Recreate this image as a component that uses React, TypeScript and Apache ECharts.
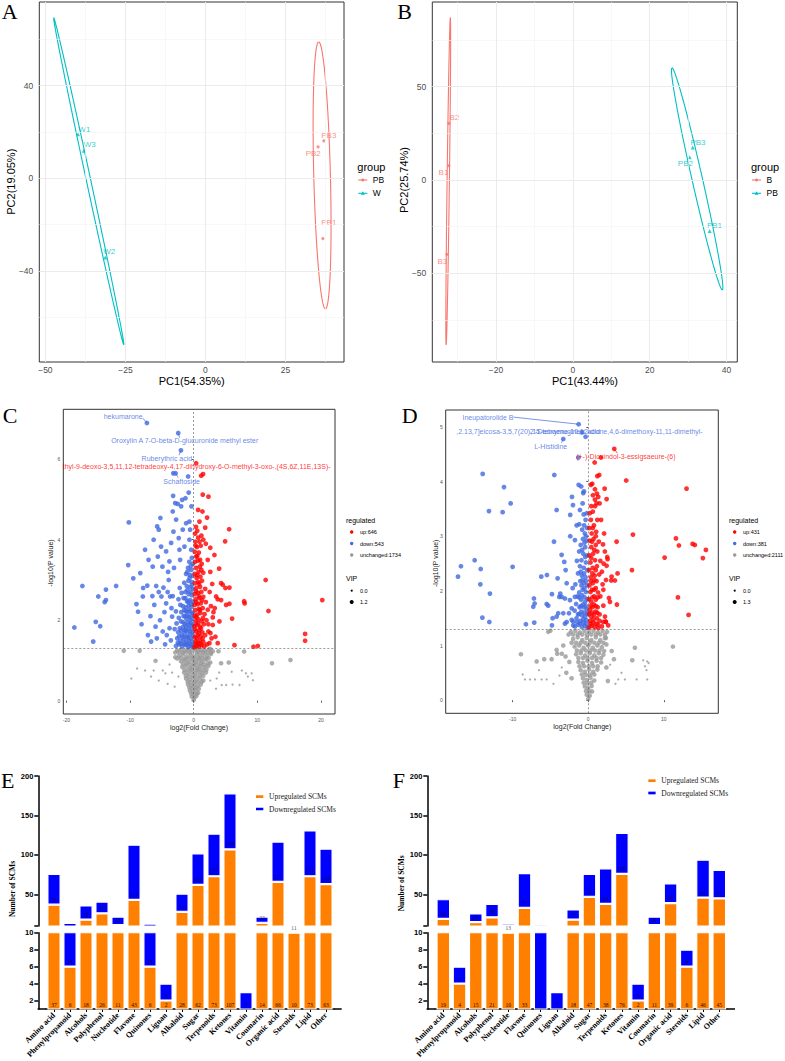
import React, { useEffect, useRef } from "react";
import * as echarts from "echarts";

const SANS = "'Liberation Sans', Arial, Helvetica, sans-serif";
const SERIF = "'Liberation Serif', 'Times New Roman', Times, serif";

const RED_G = "#F8766D";
const CYAN_G = "#00BFC4";
const UP_RED = "#FF0000";
const DOWN_BLUE = "#4169E1";
const NS_GRAY = "#999999";
const ORANGE = "#FF8000";
const BLUE = "#0000FF";

// ---------- PCA scores ----------
const A_PB_NAMES = ["PB1", "PB2", "PB3"];
const A_PB_SCORES = [[36.7, -26.0], [35.2, 13.6], [37.0, 16.2]];
const A_W_NAMES = ["W1", "W2", "W3"];
const A_W_SCORES = [[-39.8, 19.0], [-31.3, -34.2], [-38.0, 11.9]];
const B_B_NAMES = ["B1", "B2", "B3"];
const B_B_SCORES = [[-32.3, 7.7], [-32.3, 30.4], [-32.8, -39.8]];
const B_PB_NAMES = ["PB1", "PB2", "PB3"];
const B_PB_SCORES = [[35.6, -27.3], [30.4, 12.2], [31.2, 17.5]];

// confidence ellipses: centre, semi-diameter to the top, horizontal half-chord
const A_ELLIPSES = [
  { c: [36.45, 1.25], a: [-1.05, 57.65], b: [2.6, 0], color: RED_G },
  { c: [-36.45, -1.25], a: [-10.95, 70.65], b: [0.7, 0], color: CYAN_G },
];
const B_ELLIPSES = [
  { c: [-32.45, -0.65], a: [0.55, 87.75], b: [0.3, 0], color: RED_G },
  { c: [32.35, 0.65], a: [-6.55, 59.55], b: [1.39, 0], color: CYAN_G },
];

const A_X_TICKS = [-50, -25, 0, 25];
const A_Y_TICKS = [-40, 0, 40];
const B_X_TICKS = [-20, 0, 20, 40];
const B_Y_TICKS = [-50, 0, 50];

// ---------- volcano C (PB vs W) ----------
const C_COUNTS = { up: 646, down: 543, unchanged: 1734 };
const C_VIP = ["0.0", "1.2"];
const C_UP = [
  [0.38, 5.9], [1.16, 5.59], [1.47, 5.63], [1.42, 5.12], [2.31, 5.07], [0.69, 4.74], [1.37, 4.7], [2.1, 4.55], [0.9, 4.45],
  [5.56, 4.26], [4.93, 3.96], [3.25, 3.62], [3.99, 3.28], [4.3, 2.92], [4.56, 2.88], [4.98, 2.8], [5.61, 2.81], [11.3, 3.0],
  [7.92, 2.47], [8.0, 2.42], [11.74, 2.23], [6.03, 2.04], [20.2, 2.5], [17.5, 1.66], [17.5, 1.49], [10.07, 1.36], [9.39, 1.34],
  [6.4, 1.38], [4.04, 1.97], [2.99, 2.07], [3.41, 1.59], [3.77, 1.43], [2.47, 1.43], [5.61, 2.41], [5.09, 2.38], [4.3, 2.5],
  [3.77, 2.52], [3.52, 2.59], [3.3, 2.3], [2.99, 1.88], [2.62, 1.68],
  [2.6, 3.2], [2.9, 2.9], [2.2, 3.5], [1.9, 3.9], [2.5, 2.7], [3.1, 2.2], [2.8, 1.55], [2.3, 1.9], [2.7, 2.35], [1.8, 4.3], [1.5, 4.0], [2.6, 3.8],
  [0.12, 1.33], [0.45, 1.36], [0.8, 1.34], [1.2, 1.38], [1.65, 1.35], [2.1, 1.4], [0.3, 1.47], [0.95, 1.5], [1.5, 1.46],
  [0.18, 1.58], [0.6, 1.62], [1.1, 1.6], [1.8, 1.63], [0.35, 1.72], [0.85, 1.75], [1.35, 1.7], [2.3, 1.72],
  [0.1, 1.85], [0.5, 1.88], [1.0, 1.84], [1.6, 1.9], [0.3, 1.98], [0.75, 2.02], [1.25, 1.97], [2.0, 2.0], [0.15, 2.1],
  [0.55, 2.14], [1.05, 2.18], [1.7, 2.15], [0.25, 2.25], [0.8, 2.28], [1.4, 2.3], [2.2, 2.26], [0.12, 2.38], [0.6, 2.4], [1.1, 2.42], [1.9, 2.45],
  [0.3, 2.52], [0.9, 2.55], [1.5, 2.58], [0.15, 2.65], [0.65, 2.68], [1.2, 2.7], [0.4, 2.8], [1.0, 2.83], [1.8, 2.78], [0.2, 2.92], [0.7, 2.95], [1.3, 2.98],
  [0.45, 3.05], [1.05, 3.08], [0.15, 3.15], [0.75, 3.2], [1.5, 3.18], [0.35, 3.3], [0.95, 3.33], [0.2, 3.45], [0.65, 3.48], [1.25, 3.4], [0.4, 3.58],
  [0.15, 3.7], [0.8, 3.68], [0.5, 3.82], [1.1, 3.85], [0.25, 3.95], [0.7, 4.05], [0.2, 4.15], [1.2, 4.1], [0.55, 4.22], [0.35, 4.32],
  [0.3, 1.42], [0.7, 1.43], [1.05, 1.42], [1.4, 1.55], [0.45, 1.55], [0.8, 1.67], [0.2, 1.78], [1.15, 1.8], [0.65, 1.92], [1.45, 2.05],
  [0.4, 2.08], [0.95, 2.25], [0.4, 2.45], [1.3, 2.5], [0.8, 2.6], [0.35, 2.72], [0.85, 2.9], [0.55, 3.12], [1.2, 3.25], [0.55, 3.6],
  [1.0, 3.5], [0.3, 3.85], [0.9, 3.95],
];
const C_DOWN = [
  [-7.36, 6.9], [-2.44, 6.65], [-2.01, 6.22], [-3.22, 5.65], [-2.85, 5.65],
  [-18.76, 1.82], [-17.5, 2.85], [-15.8, 1.47], [-15.4, 1.96], [-14.7, 1.85], [-15.0, 2.59], [-14.0, 2.45], [-13.8, 2.5], [-13.8, 2.76],
  [-12.2, 2.85], [-10.3, 3.37], [-10.2, 4.43], [-9.5, 3.04], [-8.75, 2.21], [-8.4, 3.17], [-8.0, 2.59], [-7.95, 2.8], [-7.65, 3.75],
  [-7.3, 2.86], [-7.2, 1.63], [-7.1, 3.5], [-6.7, 1.47], [-6.45, 3.33], [-6.3, 4.0], [-6.2, 2.38], [-6.0, 1.84], [-5.9, 2.85],
  [-5.75, 4.33], [-5.65, 3.58], [-5.5, 4.25], [-5.24, 4.54], [-5.13, 3.83], [-5.08, 2.59], [-4.92, 3.33], [-4.87, 1.72], [-4.76, 2.81],
  [-4.34, 3.71], [-4.34, 2.42], [-4.24, 1.63], [-4.03, 3.2], [-3.93, 3.0], [-3.82, 3.46], [-3.71, 2.59], [-3.55, 3.92], [-3.4, 2.09],
  [-3.3, 4.7], [-3.24, 5.09], [-3.19, 4.2], [-2.92, 4.91], [-2.77, 4.5], [-2.52, 4.89], [-2.36, 4.04], [-2.25, 3.75], [-2.14, 3.5],
  [-1.98, 4.83], [-1.82, 4.99], [-1.73, 4.25], [-1.46, 3.83], [-1.3, 5.03], [-1.2, 4.41], [-0.88, 5.57], [-0.79, 5.17], [-0.68, 4.45],
  [-0.68, 4.0], [-0.57, 4.25], [-0.41, 3.75], [-0.36, 4.83],
  [-9.0, 2.4], [-8.2, 1.9], [-6.8, 2.1], [-5.3, 2.0], [-5.8, 1.55], [-4.6, 2.2], [-3.8, 1.8], [-3.6, 1.5], [-3.3, 2.6], [-3.1, 3.3],
  [-4.5, 1.4], [-5.5, 2.7], [-6.5, 2.6], [-3.5, 2.3], [-4.1, 2.7],
  [-0.12, 1.34], [-0.5, 1.37], [-0.9, 1.33], [-1.35, 1.39], [-1.8, 1.35], [-2.3, 1.4], [-2.8, 1.36], [-0.3, 1.48], [-0.75, 1.5],
  [-1.15, 1.47], [-1.6, 1.52], [-2.1, 1.49], [-2.6, 1.55], [-0.15, 1.62], [-0.55, 1.65], [-1.0, 1.6], [-1.45, 1.68], [-1.9, 1.63],
  [-2.45, 1.7], [-0.35, 1.78], [-0.8, 1.8], [-1.25, 1.76], [-1.7, 1.83], [-2.2, 1.8], [-3.0, 1.78], [-0.1, 1.9], [-0.5, 1.93],
  [-0.95, 1.95], [-1.4, 1.9], [-2.0, 1.97], [-2.7, 1.92], [-0.3, 2.05], [-0.7, 2.08], [-1.15, 2.03], [-1.6, 2.1], [-2.35, 2.06],
  [-0.15, 2.18], [-0.55, 2.22], [-1.0, 2.2], [-1.5, 2.25], [-1.95, 2.2], [-2.8, 2.22], [-0.35, 2.33], [-0.8, 2.36], [-1.25, 2.32],
  [-2.1, 2.38], [-0.12, 2.46], [-0.6, 2.5], [-1.05, 2.47], [-1.6, 2.55], [-2.4, 2.52], [-0.3, 2.62], [-0.8, 2.65], [-1.3, 2.7],
  [-1.9, 2.68], [-0.15, 2.78], [-0.55, 2.82], [-1.1, 2.85], [-2.2, 2.8], [-0.35, 2.95], [-0.85, 2.98], [-1.5, 2.93], [-0.2, 3.1],
  [-0.6, 3.12], [-1.2, 3.15], [-0.4, 3.25], [-0.9, 3.3], [-0.15, 3.4], [-0.7, 3.45], [-0.3, 3.55],
  [-0.3, 1.4], [-0.7, 1.42], [-1.1, 1.4], [-1.5, 1.43], [-2.0, 1.42], [-2.5, 1.44], [-0.4, 1.55], [-0.85, 1.57], [-1.3, 1.58],
  [-1.75, 1.58], [-2.3, 1.6], [-0.2, 1.7], [-0.6, 1.72], [-1.05, 1.72], [-1.5, 1.75], [-2.0, 1.74], [-0.3, 1.87], [-0.75, 1.88],
  [-1.2, 1.85], [-1.65, 1.95], [-0.5, 2.0], [-0.95, 2.1], [-1.35, 2.1], [-0.3, 2.15], [-0.75, 2.25], [-1.25, 2.22], [-1.7, 2.35],
  [-0.4, 2.4], [-0.85, 2.45], [-1.3, 2.55], [-0.5, 2.7], [-1.0, 2.75], [-0.3, 2.88], [-0.65, 3.05], [-1.0, 3.2], [-0.45, 3.35],
];
const C_NS_BIG = [
  [-11.0, 1.24], [-8.5, 1.24], [-6.0, 0.99], [2.58, 1.29], [3.88, 1.23], [7.92, 1.22], [4.3, 0.93], [5.5, 0.95], [12.3, 0.93], [15.2, 1.01],
  [-2.6, 1.25], [-2.0, 1.27], [-1.4, 1.24], [-0.8, 1.27], [-0.3, 1.25], [0.2, 1.27], [0.7, 1.24], [1.2, 1.26], [1.8, 1.25], [2.4, 1.27], [3.0, 1.23],
  [-2.3, 1.12], [-1.7, 1.15], [-1.1, 1.1], [-0.5, 1.14], [0.0, 1.1], [0.5, 1.15], [1.0, 1.1], [1.5, 1.14], [2.1, 1.12], [2.7, 1.16], [-2.9, 1.08],
  [-2.0, 0.98], [-1.4, 1.0], [-0.8, 0.96], [-0.2, 1.0], [0.3, 0.96], [0.85, 1.0], [1.4, 0.97], [2.0, 1.02], [2.6, 0.95],
  [-1.8, 0.84], [-1.2, 0.86], [-0.6, 0.82], [0.0, 0.86], [0.55, 0.82], [1.1, 0.86], [1.7, 0.83], [2.3, 0.86],
  [-1.5, 0.7], [-0.9, 0.68], [-0.35, 0.72], [0.2, 0.68], [0.75, 0.72], [1.3, 0.69], [1.9, 0.7],
  [-1.2, 0.55], [-0.65, 0.52], [-0.1, 0.56], [0.45, 0.52], [1.0, 0.56], [1.5, 0.5],
  [-0.9, 0.4], [-0.4, 0.37], [0.1, 0.41], [0.6, 0.36], [1.1, 0.4],
  [-0.6, 0.25], [-0.15, 0.22], [0.3, 0.26], [0.7, 0.2], [-0.3, 0.1], [0.1, 0.08], [0.4, 0.12], [0.0, 0.02],
  [-2.9, 1.2], [-2.3, 1.21], [-1.7, 1.2], [-1.1, 1.21], [-0.55, 1.2], [0.45, 1.21], [0.95, 1.2], [1.5, 1.21], [2.1, 1.2], [2.7, 1.2],
  [-2.6, 1.05], [-2.0, 1.06], [-1.4, 1.04], [-0.8, 1.05], [-0.25, 1.06], [0.25, 1.04], [0.75, 1.06], [1.25, 1.05], [1.8, 1.05], [2.35, 1.06],
  [-1.7, 0.91], [-1.1, 0.92], [-0.5, 0.9], [0.05, 0.92], [0.6, 0.9], [1.15, 0.92], [1.7, 0.9], [2.25, 0.92],
  [-1.45, 0.77], [-0.9, 0.76], [-0.3, 0.78], [0.3, 0.76], [0.85, 0.78], [1.4, 0.76], [2.0, 0.77],
  [-1.25, 0.62], [-0.7, 0.61], [-0.15, 0.63], [0.4, 0.61], [0.95, 0.63], [1.5, 0.62],
  [-0.95, 0.47], [-0.4, 0.46], [0.15, 0.47], [0.7, 0.46], [1.25, 0.47],
  [-0.7, 0.32], [-0.2, 0.31], [0.3, 0.32], [0.8, 0.3], [-0.4, 0.17], [0.05, 0.16], [0.5, 0.17],
];
const C_NS_SMALL = [
  [-8.9, 0.8], [-7.65, 0.75], [-6.3, 0.75], [-4.87, 0.75], [-4.45, 0.68], [-6.7, 0.6], [-9.8, 0.55], [-5.5, 0.5], [-4.1, 0.42],
  [5.97, 0.72], [7.55, 0.75], [8.2, 0.68], [9.1, 0.68], [8.5, 0.6], [9.3, 0.51], [4.4, 0.39], [5.1, 0.39], [6.1, 0.4], [7.2, 0.39],
  [3.6, 0.55], [4.0, 0.7], [-3.4, 0.7], [-3.8, 0.9], [3.5, 0.3], [-3.0, 0.35], [-2.4, 0.6], [2.6, 0.5],
];
const C_LABELS = [
  { text: "hekumarone", x: -11.09, y: 7.06, color: DOWN_BLUE },
  { text: "Oroxylin A 7-O-beta-D-glucuronide methyl ester", x: -1.42, y: 6.46, color: DOWN_BLUE },
  { text: "Ruberythric acid", x: -4.22, y: 6.03, color: DOWN_BLUE },
  { text: "thyl-9-deoxo-3,5,11,12-tetradeoxy-4,17-dihydroxy-6-O-methyl-3-oxo-,(4S,6Z,11E,13S)-", x: 0.46, y: 5.81, color: UP_RED },
  { text: "Schaftoside", x: -1.9, y: 5.44, color: DOWN_BLUE },
];
const C_SEGMENTS = [
  { from: [-8.0, 7.02], to: [-7.36, 6.9], color: DOWN_BLUE },
  { from: [-2.44, 6.65], to: [-2.2, 6.53], color: DOWN_BLUE },
  { from: [-2.01, 6.22], to: [-2.3, 6.1], color: DOWN_BLUE },
  { from: [-2.85, 5.65], to: [-2.45, 5.55], color: DOWN_BLUE },
];

// ---------- volcano D (PB vs B) ----------
const D_COUNTS = { up: 431, down: 381, unchanged: 2111 };
const D_VIP = ["0.0", "1.3"];
const D_UP = [
  [3.44, 4.6], [1.68, 4.44], [0.85, 4.35], [1.2, 4.1], [1.45, 4.12], [0.53, 3.96], [0.35, 3.94], [5.02, 4.02], [13.0, 3.87],
  [0.89, 3.86], [2.17, 3.87], [1.15, 3.78], [0.62, 3.75], [1.32, 3.72], [0.89, 3.67], [2.43, 3.68], [1.1, 3.6], [1.5, 3.6],
  [5.91, 3.03], [11.6, 2.96], [11.99, 2.83], [13.8, 2.86], [14.1, 2.84], [15.56, 2.75], [10.1, 2.61], [15.16, 2.6], [5.78, 2.38],
  [3.75, 2.9], [3.88, 2.32], [3.09, 2.26], [3.53, 2.19], [3.04, 2.19], [2.51, 2.62], [2.56, 2.58], [2.2, 2.72], [1.81, 2.35],
  [2.43, 2.46], [2.03, 2.5], [11.86, 1.88], [13.27, 1.56], [3.79, 1.75], [2.74, 1.87], [2.87, 1.8], [2.21, 1.53], [2.34, 1.43],
  [1.98, 1.43], [2.64, 1.37], [1.32, 1.32], [2.0, 2.02], [2.35, 2.2], [1.95, 2.85], [2.1, 3.05], [1.7, 3.3],
  [0.1, 1.33], [0.45, 1.36], [0.85, 1.34], [1.3, 1.38], [1.8, 1.35], [0.25, 1.45], [0.7, 1.48], [1.15, 1.5], [2.3, 1.44],
  [0.12, 1.58], [0.5, 1.6], [0.95, 1.62], [1.5, 1.57], [0.3, 1.72], [0.75, 1.75], [1.25, 1.7], [2.0, 1.73],
  [0.1, 1.85], [0.55, 1.88], [1.0, 1.84], [1.6, 1.9], [0.3, 1.98], [0.8, 2.02], [1.3, 1.97], [0.15, 2.1], [0.6, 2.14], [1.1, 2.18], [1.9, 2.12],
  [0.35, 2.25], [0.85, 2.28], [1.45, 2.3], [0.12, 2.38], [0.6, 2.42], [1.15, 2.45], [0.3, 2.52], [0.9, 2.56], [1.6, 2.55],
  [0.15, 2.65], [0.65, 2.68], [1.2, 2.72], [0.4, 2.8], [1.0, 2.84], [0.2, 2.92], [0.7, 2.95], [1.4, 2.9], [0.45, 3.05],
  [1.05, 3.08], [0.15, 3.15], [0.75, 3.2], [0.35, 3.3], [1.2, 3.3], [0.2, 3.42], [0.6, 3.45], [0.9, 3.55],
  [0.3, 1.4], [0.65, 1.42], [1.05, 1.4], [1.5, 1.45], [0.4, 1.53], [0.75, 1.56], [1.2, 1.6], [0.2, 1.65], [0.55, 1.7], [1.0, 1.72],
  [0.4, 1.8], [0.8, 1.9], [1.25, 1.88], [0.5, 2.02], [1.0, 2.05], [0.35, 2.18], [0.8, 2.2], [0.55, 2.32], [1.0, 2.38], [0.4, 2.6],
  [0.8, 2.75], [0.5, 2.9], [1.0, 3.0], [0.6, 3.15], [0.4, 3.55],
];
const D_DOWN = [
  [-1.27, 5.05], [-0.83, 4.9], [-0.35, 4.82], [-3.3, 4.78], [-1.3, 4.44],
  [-13.96, 4.14], [-11.14, 3.9], [-10.26, 3.6], [-13.13, 3.46], [-11.32, 3.44], [-4.49, 4.12], [-4.18, 3.48], [-15.02, 2.56],
  [-16.83, 2.45], [-17.22, 2.26], [-14.22, 2.4], [-14.27, 2.12], [-13.0, 1.95], [-14.0, 1.51], [-13.08, 1.43], [-10.0, 2.44],
  [-8.24, 1.39], [-7.18, 1.86], [-7.27, 1.71], [-7.09, 1.77], [-7.14, 1.42], [-6.21, 2.26], [-5.46, 2.29], [-5.5, 1.76],
  [-5.29, 1.73], [-4.71, 1.5], [-4.8, 1.37], [-4.8, 1.94], [-4.05, 2.23], [-4.53, 2.9], [-3.52, 2.66], [-3.17, 2.53],
  [-2.38, 3.39], [-2.15, 3.72], [-2.02, 3.57], [-2.38, 3.0], [-1.76, 2.93], [-1.53, 3.2], [-1.27, 3.94], [-0.93, 3.91],
  [-0.66, 3.79], [-0.57, 3.82], [-1.1, 3.48], [-0.74, 3.6], [-1.19, 3.22], [-2.99, 2.38], [-2.85, 2.14], [-3.7, 1.95],
  [-3.83, 1.89], [-3.52, 1.89], [-3.08, 1.86], [-3.3, 1.59], [-3.97, 1.59], [-4.18, 1.53], [-3.08, 1.4], [-2.85, 1.43],
  [-2.19, 1.47], [-1.98, 1.37], [-2.06, 2.05], [-2.42, 1.83], [-1.76, 1.89], [-2.19, 1.68], [-2.55, 1.59],
  [-0.1, 1.33], [-0.45, 1.36], [-0.85, 1.34], [-1.3, 1.38], [-1.75, 1.35], [-0.25, 1.46], [-0.65, 1.48], [-1.05, 1.45],
  [-1.55, 1.5], [-2.0, 1.44], [-0.12, 1.58], [-0.5, 1.6], [-0.9, 1.62], [-1.35, 1.57], [-1.8, 1.64], [-0.3, 1.72],
  [-0.7, 1.75], [-1.15, 1.7], [-1.6, 1.76], [-0.1, 1.85], [-0.5, 1.88], [-0.95, 1.84], [-1.4, 1.9], [-0.3, 1.98],
  [-0.75, 2.02], [-1.2, 1.97], [-0.15, 2.1], [-0.6, 2.14], [-1.05, 2.18], [-1.7, 2.12], [-0.35, 2.25], [-0.85, 2.28],
  [-1.35, 2.32], [-0.12, 2.38], [-0.6, 2.42], [-1.1, 2.45], [-0.3, 2.52], [-0.9, 2.56], [-1.5, 2.55], [-0.15, 2.65],
  [-0.65, 2.68], [-1.2, 2.72], [-0.4, 2.8], [-1.0, 2.84], [-0.2, 2.92], [-0.7, 2.95], [-0.45, 3.05], [-0.15, 3.15],
  [-0.8, 3.12], [-0.35, 3.3], [-0.2, 3.42], [-0.6, 3.4],
  [-0.3, 1.4], [-0.65, 1.42], [-1.05, 1.4], [-1.5, 1.43], [-0.4, 1.53], [-0.8, 1.55], [-1.2, 1.58], [-0.2, 1.66], [-0.55, 1.7],
  [-0.95, 1.72], [-0.4, 1.8], [-0.8, 1.92], [-1.2, 1.88], [-0.5, 2.05], [-0.9, 2.1], [-0.3, 2.18], [-0.75, 2.2], [-0.55, 2.32],
  [-1.0, 2.35], [-0.4, 2.62], [-0.8, 2.75], [-0.5, 2.88], [-0.3, 3.0], [-0.55, 3.2],
];
const D_NS_BIG = [
  [-8.9, 0.84], [-6.82, 0.71], [-5.82, 0.75], [-4.84, 0.75], [-4.18, 0.92], [-4.1, 0.85], [-5.29, 1.25], [-5.0, 1.27], [6.17, 0.96],
  [5.82, 0.73], [11.2, 0.98], [2.34, 1.14], [-3.3, 1.0], [-3.0, 0.8], [3.1, 0.9], [-2.9, 0.5],
  [-2.5, 0.7], [-2.2, 0.4], [2.4, 0.6], [2.6, 0.35], [-3.5, 0.85], [3.4, 0.75],
  [-2.3, 1.25], [-1.7, 1.27], [-1.1, 1.24], [-0.5, 1.27], [0.1, 1.25], [0.7, 1.27], [1.3, 1.24], [1.9, 1.27], [2.5, 1.25],
  [-2.0, 1.12], [-1.4, 1.15], [-0.8, 1.1], [-0.2, 1.14], [0.4, 1.1], [1.0, 1.15], [1.6, 1.1], [2.2, 1.14],
  [-1.8, 0.98], [-1.2, 1.0], [-0.6, 0.96], [0.0, 1.0], [0.6, 0.96], [1.2, 1.0], [1.8, 0.97], [2.4, 1.02],
  [-1.6, 0.84], [-1.0, 0.86], [-0.4, 0.82], [0.2, 0.86], [0.8, 0.82], [1.4, 0.86], [2.0, 0.83],
  [-1.3, 0.7], [-0.7, 0.68], [-0.1, 0.72], [0.5, 0.68], [1.1, 0.72], [1.7, 0.69],
  [-1.0, 0.55], [-0.45, 0.52], [0.1, 0.56], [0.65, 0.52], [1.2, 0.56],
  [-0.7, 0.4], [-0.2, 0.37], [0.3, 0.41], [0.8, 0.36], [-0.45, 0.25], [0.0, 0.22], [0.45, 0.26],
  [-0.2, 0.1], [0.2, 0.08], [0.0, 0.02],
  [-2.6, 1.2], [-2.0, 1.2], [-1.4, 1.2], [-0.8, 1.2], [-0.2, 1.2], [0.4, 1.2], [1.0, 1.2], [1.6, 1.2], [2.2, 1.2],
  [-2.2, 1.05], [-1.6, 1.05], [-1.0, 1.05], [-0.4, 1.05], [0.2, 1.05], [0.8, 1.05], [1.4, 1.05], [2.0, 1.05],
  [-1.5, 0.91], [-0.9, 0.91], [-0.3, 0.91], [0.3, 0.91], [0.9, 0.91], [1.5, 0.91], [2.1, 0.9],
  [-1.3, 0.77], [-0.7, 0.77], [-0.1, 0.77], [0.5, 0.77], [1.1, 0.77], [1.7, 0.77],
  [-1.15, 0.62], [-0.55, 0.62], [0.05, 0.62], [0.65, 0.62], [1.25, 0.62],
  [-0.85, 0.47], [-0.3, 0.46], [0.25, 0.47], [0.8, 0.47], [-0.6, 0.32], [-0.1, 0.31], [0.4, 0.32],
  [-0.3, 0.17], [0.15, 0.16], [0.5, 0.16],
];
const D_NS_SMALL = [
  [-8.67, 0.47], [-8.37, 0.38], [-7.7, 0.38], [-7.04, 0.38], [-6.16, 0.38], [-5.5, 0.38], [3.97, 0.38], [4.85, 0.38], [6.4, 0.38],
  [7.8, 0.38], [7.27, 0.73], [7.8, 0.71], [7.98, 0.68], [7.5, 0.62], [7.7, 0.55], [-4.6, 0.3], [-3.8, 0.45], [3.6, 0.3],
  [4.4, 0.5], [-3.5, 0.6], [-6.5, 0.55], [2.9, 0.65],
];
const D_LABELS = [
  { text: "Ineupatorolide B", x: -13.26, y: 5.18, color: DOWN_BLUE },
  { text: ",2.13,7]eicosa-3,5,7(20),15-tetraene-10,12-dione,4,6-dimethoxy-11,11-dimethyl-", x: -1.16, y: 4.91, color: DOWN_BLUE },
  { text: "2'-Deoxymugineic acid", x: -3.08, y: 4.91, color: DOWN_BLUE },
  { text: "L-Histidine", x: -4.97, y: 4.64, color: DOWN_BLUE },
  { text: "(+-)-Dioxindol-3-essigsaeure-(6)", x: 4.98, y: 4.46, color: UP_RED },
];
const D_SEGMENTS = [
  { from: [-9.9, 5.18], to: [-1.27, 5.05], color: DOWN_BLUE },
  { from: [-3.3, 4.78], to: [-3.55, 4.71], color: DOWN_BLUE },
  { from: [3.44, 4.6], to: [3.85, 4.52], color: UP_RED },
];

// ---------- SCM classes ----------
const CATEGORIES = [
  "Amino acid", "Phenylpropanoid", "Alcohols", "Polyphenol", "Nucleotide", "Flavone", "Quinones", "Lignan", "Alkaloid",
  "Sugar", "Terpenoids", "Ketones", "Vitamin", "Coumarin", "Organic acid", "Steroids", "Lipid", "Other",
];
const E_UP = [37, 6, 18, 26, 11, 43, 6, 2, 28, 62, 73, 107, 0, 14, 66, 10, 73, 63];
const E_DOWN = [39, 8, 18, 15, 11, 70, 7, 2, 23, 40, 54, 71, 3, 8, 51, 1, 58, 45];
const F_UP = [19, 4, 15, 21, 10, 33, 0, 0, 18, 47, 38, 76, 2, 11, 39, 6, 46, 45];
const F_DOWN = [25, 2, 11, 17, 3, 44, 11, 3, 13, 29, 45, 52, 2, 11, 25, 2, 48, 36];
const UPPER_LABELS = [50, 100, 150, 200];
const UPPER_TICKS = [10, 50, 100, 150, 200];
const LOWER_TICKS = [2, 4, 6, 8, 10];

const minus = (v: number) => (v < 0 ? "\u2212" + Math.abs(v) : String(v));

function ellipsePoints(e: any, n = 160) {
  const pts: number[][] = [];
  for (let i = 0; i <= n; i++) {
    const t = (i / n) * Math.PI * 2;
    pts.push([
      e.c[0] + e.a[0] * Math.cos(t) + e.b[0] * Math.sin(t),
      e.c[1] + e.a[1] * Math.cos(t) + e.b[1] * Math.sin(t),
    ]);
  }
  return pts;
}

function valueAxis(idx: number, min: number, max: number, ticks: number[], o: any = {}) {
  return {
    type: "value",
    gridIndex: idx,
    min,
    max,
    axisLine: { show: false },
    splitLine: { show: false },
    axisTick: {
      show: true,
      customValues: ticks,
      length: o.tickLen ?? 3,
      lineStyle: { color: "#333", width: o.tickWidth ?? 0.8 },
    },
    axisLabel: {
      customValues: ticks,
      color: o.labelColor ?? "#4d4d4d",
      fontSize: o.fontSize ?? 8.5,
      fontFamily: SANS,
      margin: o.margin ?? 4,
      formatter: o.formatter ?? ((v: number) => String(v)),
    },
  };
}

function gridLines(idx: number, xMaj: number[], xMin: number[], yMaj: number[], yMin: number[]) {
  const major = { color: "#EBEBEB", width: 1, type: "solid" };
  const minor = { color: "#F3F3F3", width: 0.6, type: "solid" };
  return {
    type: "line",
    xAxisIndex: idx,
    yAxisIndex: idx,
    data: [[0, 0]],
    showSymbol: false,
    symbolSize: 0,
    lineStyle: { opacity: 0 },
    silent: true,
    z: 1,
    markLine: {
      silent: true,
      symbol: ["none", "none"],
      label: { show: false },
      data: [
        ...xMin.map((v) => ({ xAxis: v, lineStyle: minor })),
        ...yMin.map((v) => ({ yAxis: v, lineStyle: minor })),
        ...xMaj.map((v) => ({ xAxis: v, lineStyle: major })),
        ...yMaj.map((v) => ({ yAxis: v, lineStyle: major })),
      ],
    },
  };
}

function pcaPoints(idx: number, scores: number[][], names: string[], layout: any[], color: string, symbol: string, size: number) {
  return {
    type: "scatter",
    xAxisIndex: idx,
    yAxisIndex: idx,
    symbol,
    symbolSize: size,
    itemStyle: { color },
    silent: true,
    z: 4,
    data: scores.map((s, i) => ({
      value: s,
      name: names[i],
      label: { offset: [layout[i][0], layout[i][1]], align: layout[i][2] },
    })),
    label: {
      show: true,
      position: "inside",
      formatter: "{b}",
      color,
      fontSize: 8,
      fontFamily: SANS,
    },
  };
}

function ellipseSeries(idx: number, e: any) {
  return {
    type: "line",
    xAxisIndex: idx,
    yAxisIndex: idx,
    data: ellipsePoints(e),
    showSymbol: false,
    silent: true,
    z: 3,
    lineStyle: { color: e.color, width: 1.1 },
  };
}

function volcanoSeries(idx: number, up: number[][], down: number[][], nsBig: number[][], nsSmall: number[][], labels: any[], segs: any[]) {
  const base = { type: "scatter", xAxisIndex: idx, yAxisIndex: idx, silent: true };
  const out: any[] = [
    { ...base, data: nsSmall, symbolSize: 2.3, itemStyle: { color: NS_GRAY }, z: 2 },
    { ...base, data: nsBig, symbolSize: 4.6, itemStyle: { color: NS_GRAY }, z: 2 },
    { ...base, data: down, symbolSize: 4.8, itemStyle: { color: DOWN_BLUE }, z: 3 },
    { ...base, data: up, symbolSize: 4.8, itemStyle: { color: UP_RED }, z: 3 },
    {
      type: "line",
      xAxisIndex: idx,
      yAxisIndex: idx,
      data: [[0, 0]],
      showSymbol: false,
      lineStyle: { opacity: 0 },
      silent: true,
      z: 4,
      markLine: {
        silent: true,
        symbol: ["none", "none"],
        label: { show: false },
        lineStyle: { color: "#555", width: 0.6, type: [2, 2] },
        data: [{ yAxis: 1.301 }, { xAxis: 0 }],
      },
    },
    ...segs.map((s) => ({
      type: "line",
      xAxisIndex: idx,
      yAxisIndex: idx,
      data: [s.from, s.to],
      showSymbol: false,
      silent: true,
      z: 5,
      lineStyle: { color: s.color, width: 0.7 },
    })),
    {
      ...base,
      symbolSize: 1,
      itemStyle: { color: "rgba(0,0,0,0)" },
      z: 6,
      data: labels.map((l) => ({ value: [l.x, l.y], name: l.text, label: { color: l.color } })),
      label: { show: true, position: "inside", formatter: "{b}", fontSize: 7, fontFamily: SANS },
    },
  ];
  return out;
}

function barSeries(up: number[], down: number[], gUp: number, gLow: number, key: string, width: number) {
  const total = (i: number) => up[i] + down[i];
  const common = { type: "bar", barWidth: width, silent: true };
  const orangeStyle = { color: ORANGE, borderColor: "#fff", borderWidth: 1.1 };
  const blueStyle = { color: BLUE, borderColor: "#fff", borderWidth: 1.1 };
  const labelText = { fontSize: 5.5, fontFamily: SERIF, color: "#111" };
  // totals are written at the base of each blue segment, in the panel holding that base
  const totalLabels = (g: number, upper: boolean) => ({
    type: "scatter",
    xAxisIndex: g,
    yAxisIndex: g,
    silent: true,
    symbolSize: 1,
    itemStyle: { color: "rgba(0,0,0,0)" },
    z: 10,
    data: up
      .map((u, i) => ({ u, i }))
      .filter(({ u }) => (upper ? u > 10 : u <= 10))
      .map(({ u, i }) => ({ value: [i, upper ? u : Math.max(u, 1)], name: String(total(i)) })),
    label: { show: true, position: "top", distance: 1.5, formatter: "{b}", ...labelText },
  });
  return [
    { ...common, xAxisIndex: gUp, yAxisIndex: gUp, stack: key + "u", itemStyle: orangeStyle, data: up },
    { ...common, xAxisIndex: gUp, yAxisIndex: gUp, stack: key + "u", itemStyle: blueStyle, data: down },
    {
      ...common,
      xAxisIndex: gLow,
      yAxisIndex: gLow,
      stack: key + "l",
      itemStyle: orangeStyle,
      data: up.map((u) => ({ value: u, label: { show: u > 0 } })),
      label: { ...labelText, position: "insideBottom", distance: 1.5, formatter: (p: any) => String(up[p.dataIndex]) },
    },
    { ...common, xAxisIndex: gLow, yAxisIndex: gLow, stack: key + "l", itemStyle: blueStyle, data: down },
    totalLabels(gUp, true),
    totalLabels(gLow, false),
  ];
}

function barAxes(gUp: number, gLow: number, offset: number) {
  const yCommon = {
    type: "value",
    offset,
    splitLine: { show: false },
    axisLine: { show: true, lineStyle: { color: "#000", width: 1.5 } },
    axisTick: { show: true, length: 4, lineStyle: { color: "#000", width: 1.5 } },
    axisLabel: { color: "#000", fontSize: 7.5, fontWeight: "bold", fontFamily: SANS, margin: 5 },
  };
  const xAxes = [
    { type: "category", gridIndex: gUp, data: CATEGORIES, show: false },
    {
      type: "category",
      gridIndex: gLow,
      data: CATEGORIES,
      axisLine: { show: true, lineStyle: { color: "#000", width: 1.5 } },
      axisTick: { show: true, alignWithLabel: true, length: 3, lineStyle: { color: "#000", width: 1 } },
      axisLabel: { interval: 0, rotate: 45, fontSize: 8, fontWeight: "bold", fontFamily: SERIF, color: "#000", margin: 5 },
    },
  ];
  const yAxes = [
    {
      ...yCommon,
      gridIndex: gUp,
      min: 10,
      max: 200,
      axisTick: { ...yCommon.axisTick, customValues: UPPER_TICKS },
      axisLabel: { ...yCommon.axisLabel, customValues: UPPER_LABELS },
    },
    {
      ...yCommon,
      gridIndex: gLow,
      min: 1,
      max: 10,
      axisTick: { ...yCommon.axisTick, customValues: LOWER_TICKS },
      axisLabel: { ...yCommon.axisLabel, customValues: LOWER_TICKS },
    },
  ];
  return { xAxes, yAxes };
}

const txt = (x: number, y: number, text: string, o: any = {}) => ({
  type: "text",
  x,
  y,
  rotation: o.rotation || 0,
  silent: true,
  z: 100,
  style: {
    text,
    fill: o.fill || "#000",
    fontSize: o.size || 10,
    fontFamily: o.family || SANS,
    fontWeight: o.weight || "normal",
    textAlign: o.align || "left",
    align: o.align || "left",
    textVerticalAlign: "middle",
    verticalAlign: "middle",
  },
});
const dot = (cx: number, cy: number, r: number, fill: string) => ({
  type: "circle",
  silent: true,
  z: 100,
  shape: { cx, cy, r },
  style: { fill },
});
const seg = (x1: number, y1: number, x2: number, y2: number, stroke: string, lineWidth = 1) => ({
  type: "line",
  silent: true,
  z: 100,
  shape: { x1, y1, x2, y2 },
  style: { stroke, lineWidth },
});
const tri = (cx: number, cy: number, fill: string) => ({
  type: "polygon",
  silent: true,
  z: 100,
  shape: { points: [[cx, cy - 2], [cx - 2, cy + 1.5], [cx + 2, cy + 1.5]] },
  style: { fill },
});

function pcaLegend(x: number, items: { name: string; color: string; shape: string }[]) {
  const out: any[] = [txt(x, 166.7, "group", { size: 11 })];
  items.forEach((it, i) => {
    const y = 180 + i * 13.3;
    out.push(seg(x + 1, y, x + 10, y, it.color, 1.1));
    out.push(it.shape === "circle" ? dot(x + 5.5, y, 1.4, it.color) : tri(x + 5.5, y, it.color));
    out.push(txt(x + 15.5, y, it.name, { size: 8.5 }));
  });
  return out;
}

function volcanoLegend(x: number, counts: any, vip: string[]) {
  return [
    txt(x, 520, "regulated", { size: 7 }),
    dot(x + 5.7, 532, 1.7, UP_RED),
    txt(x + 14, 532, "up:" + counts.up, { size: 5.5 }),
    dot(x + 5.7, 543.5, 1.7, DOWN_BLUE),
    txt(x + 14, 543.5, "down:" + counts.down, { size: 5.5 }),
    dot(x + 5.7, 555, 1.7, NS_GRAY),
    txt(x + 14, 555, "unchanged:" + counts.unchanged, { size: 5.5 }),
    txt(x, 578.3, "VIP", { size: 7 }),
    dot(x + 5.7, 590.7, 1.0, "#000"),
    txt(x + 14, 590.7, vip[0], { size: 5.5 }),
    dot(x + 5.7, 602, 2.0, "#000"),
    txt(x + 14, 602, vip[1], { size: 5.5 }),
  ];
}

function barLegend(x: number, y: number) {
  return [
    { type: "rect", silent: true, z: 100, shape: { x, y: y - 1.35, width: 7.3, height: 2.7 }, style: { fill: ORANGE } },
    txt(x + 13, y, "Upregulated SCMs", { size: 7.5, family: SERIF, fill: "#222" }),
    { type: "rect", silent: true, z: 100, shape: { x, y: y + 12.3 - 1.35, width: 7.3, height: 2.7 }, style: { fill: BLUE } },
    txt(x + 13, y + 12.3, "Downregulated SCMs", { size: 7.5, family: SERIF, fill: "#222" }),
  ];
}

function buildOption() {
  const eAx = barAxes(4, 5, 7.7);
  const fAx = barAxes(6, 7, 7.9);
  const pcaOpts = { formatter: minus, margin: 4 };
  const volOpts = { fontSize: 5, margin: 3, tickLen: 2, labelColor: "#555" };

  const letter = (x: number, y: number, t: string) => txt(x, y, t, { size: 22, family: SERIF });

  return {
    animation: false,
    backgroundColor: "#fff",
    textStyle: { fontFamily: SANS },
    grid: [
      { left: 39.3, top: 2, width: 304.7, height: 360, show: true, borderColor: "#333", borderWidth: 1, backgroundColor: "#fff" },
      { left: 432.3, top: 2, width: 305, height: 360, show: true, borderColor: "#333", borderWidth: 1, backgroundColor: "#fff" },
      { left: 63.3, top: 409.3, width: 271.7, height: 304.7, show: true, borderColor: "#333", borderWidth: 1, backgroundColor: "#fff" },
      { left: 445.7, top: 410, width: 272.6, height: 303.3, show: true, borderColor: "#333", borderWidth: 1, backgroundColor: "#fff" },
      { left: 46, top: 776, width: 288, height: 150 },
      { left: 46, top: 932.7, width: 288, height: 76.3 },
      { left: 435.2, top: 776, width: 292.2, height: 150 },
      { left: 435.2, top: 932.7, width: 292.2, height: 76.3 },
    ],
    xAxis: [
      valueAxis(0, -51.9, 43.3, A_X_TICKS, { ...pcaOpts, margin: 3.5 }),
      valueAxis(1, -36.6, 42.8, B_X_TICKS, { ...pcaOpts, margin: 3.5 }),
      valueAxis(2, -20.5, 22.2, [-20, -10, 0, 10, 20], volOpts),
      valueAxis(3, -18.85, 17.2, [-10, 0, 10], volOpts),
      ...eAx.xAxes,
      ...fAx.xAxes,
    ],
    yAxis: [
      valueAxis(0, -79.3, 76.1, A_Y_TICKS, { ...pcaOpts, margin: 6 }),
      valueAxis(1, -97.5, 95.4, B_Y_TICKS, { ...pcaOpts, margin: 6 }),
      valueAxis(2, -0.33, 7.24, [0, 2, 4, 6], volOpts),
      valueAxis(3, -0.24, 5.31, [0, 1, 2, 3, 4, 5], volOpts),
      ...eAx.yAxes,
      ...fAx.yAxes,
    ],
    series: [
      gridLines(0, [-50, -25, 0, 25], [-37.5, -12.5, 12.5, 37.5], [-40, 0, 40], [-60, -20, 20, 60]),
      gridLines(1, [-20, 0, 20, 40], [-30, -10, 10, 30], [-50, 0, 50], [-75, -25, 25, 75]),
      ...A_ELLIPSES.map((e) => ellipseSeries(0, e)),
      ...B_ELLIPSES.map((e) => ellipseSeries(1, e)),
      pcaPoints(0, A_PB_SCORES, A_PB_NAMES, [[-1.6, -16, "left"], [2.7, 7, "right"], [-2.6, -5.7, "left"]], RED_G, "circle", 3.2),
      pcaPoints(0, A_W_SCORES, A_W_NAMES, [[0.3, -5, "left"], [-2, -6, "left"], [0, -6, "left"]], CYAN_G, "triangle", 4),
      pcaPoints(1, B_B_SCORES, B_B_NAMES, [[-0.4, 6.6, "right"], [0.6, -6, "left"], [0.3, 6.7, "right"]], RED_G, "circle", 3.2),
      pcaPoints(1, B_PB_SCORES, B_PB_NAMES, [[-2.7, -5, "left"], [3.3, 6.7, "right"], [-2.3, -5, "left"]], CYAN_G, "triangle", 4),
      ...volcanoSeries(2, C_UP, C_DOWN, C_NS_BIG, C_NS_SMALL, C_LABELS, C_SEGMENTS),
      ...volcanoSeries(3, D_UP, D_DOWN, D_NS_BIG, D_NS_SMALL, D_LABELS, D_SEGMENTS),
      ...barSeries(E_UP, E_DOWN, 4, 5, "e", 13.2),
      ...barSeries(F_UP, F_DOWN, 6, 7, "f", 13.6),
    ],
    graphic: [
      letter(1.7, 11.7, "A"),
      letter(397.3, 11.7, "B"),
      letter(2.7, 415.3, "C"),
      letter(401.7, 415.8, "D"),
      letter(1, 780.2, "E"),
      letter(392.7, 780.2, "F"),
      txt(10.5, 181.7, "PC2(19.05%)", { size: 11, rotation: Math.PI / 2, align: "center" }),
      txt(191.7, 380.7, "PC1(54.35%)", { size: 11, align: "center" }),
      txt(403.5, 180, "PC2(25.74%)", { size: 11, rotation: Math.PI / 2, align: "center" }),
      txt(585, 380.7, "PC1(43.44%)", { size: 11, align: "center" }),
      ...pcaLegend(357.3, [
        { name: "PB", color: RED_G, shape: "circle" },
        { name: "W", color: CYAN_G, shape: "triangle" },
      ]),
      ...pcaLegend(751, [
        { name: "B", color: RED_G, shape: "circle" },
        { name: "PB", color: CYAN_G, shape: "triangle" },
      ]),
      txt(50.7, 563, "-log10(P value)", { size: 7, rotation: Math.PI / 2, align: "center", fill: "#222" }),
      txt(199, 727.7, "log2(Fold Change)", { size: 7, align: "center", fill: "#222" }),
      txt(435, 563.3, "-log10(P value)", { size: 7, rotation: Math.PI / 2, align: "center", fill: "#222" }),
      txt(582.3, 726.7, "log2(Fold Change)", { size: 7, align: "center", fill: "#222" }),
      ...volcanoLegend(346, C_COUNTS, C_VIP),
      ...volcanoLegend(729, D_COUNTS, D_VIP),
      txt(12, 889, "Number of SCMs", { size: 7.5, rotation: Math.PI / 2, align: "center", family: SERIF, weight: "bold" }),
      txt(401.7, 883.3, "Number of SCMs", { size: 7.5, rotation: Math.PI / 2, align: "center", family: SERIF, weight: "bold" }),
      ...barLegend(256, 796.7),
      ...barLegend(648.3, 780.7),
      seg(37.6, 1009, 46, 1009, "#000", 1.5),
      seg(334, 1009, 341.7, 1009, "#000", 1.5),
      seg(426.6, 1009, 435.2, 1009, "#000", 1.5),
      seg(727.4, 1009, 735, 1009, "#000", 1.5),
    ],
  };
}

export default function App() {
  const ref = useRef<HTMLDivElement>(null);
  useEffect(() => {
    if (!ref.current) return;
    const chart = echarts.init(ref.current, null, { renderer: "svg", width: 785, height: 1061 });
    chart.setOption(buildOption() as any);
    return () => chart.dispose();
  }, []);
  return (
    <div
      ref={ref}
      style={{ position: "absolute", left: 0, top: 0, width: 785, height: 1061, background: "#fff" }}
    />
  );
}
